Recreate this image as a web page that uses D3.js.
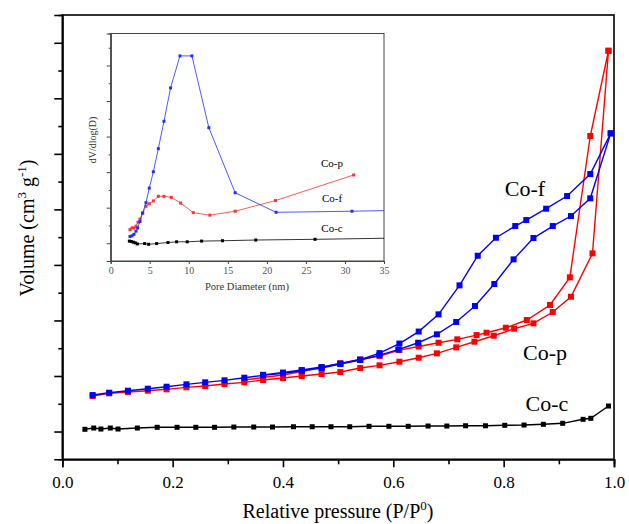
<!DOCTYPE html>
<html>
<head>
<meta charset="utf-8">
<script src="https://cdn.jsdelivr.net/npm/d3@7"></script>
<style>
  body { margin: 0; background: #fff; }
  svg { display: block; }
  svg text { font-family: "Liberation Serif", "Times New Roman", serif; }
</style>
</head>
<body>
<svg id="chart" width="629" height="524" font-family="Liberation Serif, serif"></svg>
<script>
// isotherm data (P/P0, volume)
const cofAdsP = [0.055,0.085,0.119,0.155,0.189,0.225,0.259,0.294,0.330,0.364,0.400,0.434,0.470,0.504,0.540,0.575,0.609,0.645,0.679,0.714,0.748,0.783,0.818,0.854,0.889,0.922,0.957,0.994];
const cofAdsV = [65.7,69.9,73.5,77.1,80.7,85.0,88.6,92.2,96.9,101.2,104.8,109.5,114.3,121.5,128.7,137.7,147.6,159.9,175.0,197.2,226.0,265.6,310.0,348.4,370.0,388.0,419.9,536.9];
const cofDesP = [0.994,0.957,0.915,0.877,0.841,0.821,0.786,0.753,0.720,0.682,0.646,0.611,0.575,0.540,0.504,0.470,0.434,0.400,0.364];
const cofDesV = [536.9,463.6,424.0,401.2,380.8,370.0,348.9,316.5,263.2,211.0,180.0,158.4,141.3,129.6,122.4,116.1,110.7,106.2,102.1];

const copAdsP = [0.055,0.085,0.119,0.155,0.189,0.225,0.259,0.294,0.330,0.364,0.400,0.434,0.470,0.504,0.540,0.575,0.611,0.646,0.679,0.714,0.747,0.782,0.819,0.854,0.889,0.922,0.961,0.990];
const copAdsV = [63.9,68.8,71.1,73.5,76.0,79.6,81.9,85.5,88.6,92.7,96.3,99.9,103.5,107.1,114.3,119.2,125.7,132.9,140.8,151.6,161.7,172.5,185.1,194.8,215.2,242.7,320.8,685.6];
const copDesP = [0.990,0.957,0.920,0.884,0.842,0.804,0.769,0.751,0.716,0.682,0.646,0.611,0.575,0.540,0.504,0.470,0.434,0.400,0.364,0.330];
const copDesV = [685.6,532.1,277.6,227.8,200.8,186.9,177.9,173.7,166.0,159.9,153.0,146.7,135.9,129.6,122.8,115.6,108.0,101.7,97.2,92.7];

const cocP = [0.041,0.057,0.070,0.087,0.101,0.136,0.172,0.208,0.242,0.276,0.311,0.347,0.381,0.419,0.453,0.487,0.521,0.556,0.592,0.627,0.663,0.697,0.731,0.767,0.802,0.837,0.872,0.907,0.944,0.958,0.990];
const cocV = [4.0,6.3,4.5,6.3,4.5,6.3,7.6,7.6,7.6,7.6,8.1,8.1,8.1,8.6,8.6,8.6,8.6,9.4,9.4,9.4,9.9,9.9,10.4,10.4,11.2,11.7,13.0,14.8,22.0,23.8,45.9];

// inset: pore size distribution (nm, dV/dlog(D) arbitrary units)
const psdCofD = [2.47,2.73,2.98,3.24,3.45,3.75,4.09,4.52,4.94,5.46,6.10,6.82,7.67,8.87,10.40,12.57,15.94,21.18,30.90,38.0];
const psdCofY = [0.19,0.21,0.25,0.34,0.43,0.61,0.85,1.14,1.55,2.01,2.66,3.43,4.37,5.27,5.27,3.25,1.42,0.87,0.90,0.93];
const psdCopD = [2.47,2.73,2.98,3.24,3.50,3.75,4.09,4.52,4.94,5.46,6.10,6.82,7.76,8.95,10.57,12.70,15.94,21.10,31.12];
const psdCopY = [0.38,0.43,0.43,0.48,0.59,0.68,0.85,1.04,1.11,1.19,1.32,1.32,1.29,1.13,0.86,0.79,0.90,1.20,1.92];
const psdCocD = [2.39,2.64,2.90,3.15,3.41,4.35,4.86,5.88,7.33,8.44,9.80,11.64,14.32,18.58,26.17,38.0];
const psdCocY = [0.06,0.05,0.03,0.01,-0.02,-0.01,-0.03,-0.01,0.02,0.04,0.04,0.06,0.07,0.09,0.11,0.15];

const xTicks = [0, 0.2, 0.4, 0.6, 0.8, 1.0];
const xMinor = [0.1, 0.3, 0.5, 0.7, 0.9];
const yTicks = [0, 100, 200, 300, 400, 500, 600, 700];
const yMinor = [50, 150, 250, 350, 450, 550, 650];
const inXTicks = [0, 5, 10, 15, 20, 25, 30, 35];
const inYTicks = [0, 1, 2, 3, 4, 5];
const inYMinor = [0.5, 1.5, 2.5, 3.5, 4.5, 5.5];

const BLUE = '#0000ff', RED = '#ff0000', BLACK = '#000000';
const SERIF = '"Liberation Serif", "Times New Roman", serif';

const svg = d3.select('#chart');
const x = d3.scaleLinear().domain([0, 1]).range([62.3, 614]);
const y = d3.scaleLinear().domain([-50, 750]).range([459.3, 15]);

// frame
svg.append('rect').attr('x', x(0)).attr('y', y(750)).attr('width', x(1) - x(0)).attr('height', y(-50) - y(750))
  .attr('fill', 'none').attr('stroke', '#000').attr('stroke-width', 1.6);

// axes
const gx = svg.append('g').attr('transform', `translate(0,${y(-50)})`)
  .call(d3.axisBottom(x).tickValues(xTicks).tickFormat(d3.format('.1f')).tickSize(8).tickPadding(9));
svg.append('g').attr('transform', `translate(0,${y(-50)})`)
  .call(d3.axisBottom(x).tickValues(xMinor).tickFormat('').tickSize(5));
svg.append('g').attr('transform', `translate(${x(0)},0)`)
  .call(d3.axisLeft(y).tickValues(yTicks).tickFormat('').tickSize(8));
svg.append('g').attr('transform', `translate(${x(0)},0)`)
  .call(d3.axisLeft(y).tickValues(yMinor).tickFormat('').tickSize(4));
svg.selectAll('.domain').attr('stroke', '#000').attr('stroke-width', 1.6);
svg.selectAll('.tick line').attr('stroke', '#000').attr('stroke-width', 1.6);
gx.attr('font-family', SERIF);
gx.selectAll('.tick text').attr('font-size', 17).attr('font-family', SERIF).attr('fill', '#000');

// axis titles
const xt = svg.append('text').attr('x', 338).attr('y', 518).attr('text-anchor', 'middle')
  .attr('font-family', SERIF).attr('font-size', 20);
xt.append('tspan').text('Relative pressure (P/P');
xt.append('tspan').attr('dy', -8).attr('font-size', 13).text('0');
xt.append('tspan').attr('dy', 8).text(')');

const yt = svg.append('text').attr('transform', 'translate(34,228) rotate(-90)').attr('text-anchor', 'middle')
  .attr('font-family', SERIF).attr('font-size', 20);
yt.append('tspan').text('Volume (cm');
yt.append('tspan').attr('dy', -8).attr('font-size', 13).text('3');
yt.append('tspan').attr('dy', 8).text(' g');
yt.append('tspan').attr('dy', -8).attr('font-size', 13).text('-1');
yt.append('tspan').attr('dy', 8).text(')');

function series(g, xs, ys, sx, sy, color, size, lw) {
  const pts = xs.map((v, i) => [v, ys[i]]);
  g.append('path').datum(pts)
    .attr('d', d3.line().x(d => sx(d[0])).y(d => sy(d[1])))
    .attr('fill', 'none').attr('stroke', color).attr('stroke-width', lw);
  g.selectAll(null).data(pts).enter().append('rect')
    .attr('x', d => sx(d[0]) - size / 2).attr('y', d => sy(d[1]) - size / 2)
    .attr('width', size).attr('height', size).attr('fill', color);
}

const main = svg.append('g');
series(main, cocP, cocV, x, y, BLACK, 5, 1.4);
series(main, copAdsP, copAdsV, x, y, RED, 6, 1.4);
series(main, copDesP, copDesV, x, y, RED, 6, 1.4);
series(main, cofAdsP, cofAdsV, x, y, BLUE, 6, 1.4);
series(main, cofDesP, cofDesV, x, y, BLUE, 6, 1.4);

function label(g, px, py, size, txt) {
  g.append('text').attr('x', px).attr('y', py).attr('text-anchor', 'middle')
    .attr('font-family', SERIF).attr('font-size', size).text(txt);
}
label(svg, 525, 196, 22, 'Co-f');
label(svg, 545, 360, 22, 'Co-p');
label(svg, 547, 411, 22, 'Co-c');

// inset
const ix = d3.scaleLinear().domain([0, 35]).range([110.7, 384]);
const iy = d3.scaleLinear().domain([-0.5, 5.9]).range([261, 33.5]);
const inset = svg.append('g');
inset.append('rect').attr('x', ix(0)).attr('y', iy(5.9)).attr('width', ix(35) - ix(0)).attr('height', iy(-0.5) - iy(5.9))
  .attr('fill', '#fff').attr('stroke', '#444').attr('stroke-width', 1);
svg.append('clipPath').attr('id', 'inclip').append('rect')
  .attr('x', ix(0)).attr('y', iy(5.9)).attr('width', ix(35) - ix(0)).attr('height', iy(-0.5) - iy(5.9));

const ixa = inset.append('g').attr('transform', `translate(0,${iy(-0.5)})`)
  .call(d3.axisBottom(ix).tickValues(inXTicks).tickSize(3).tickPadding(3));
inset.append('g').attr('transform', `translate(${ix(0)},0)`)
  .call(d3.axisLeft(iy).tickValues(inYTicks).tickFormat('').tickSize(4));
inset.append('g').attr('transform', `translate(${ix(0)},0)`)
  .call(d3.axisLeft(iy).tickValues(inYMinor).tickFormat('').tickSize(2));
inset.selectAll('.domain').attr('stroke', '#444');
inset.selectAll('.tick line').attr('stroke', '#444');
ixa.attr('font-family', SERIF);
ixa.selectAll('.tick text').attr('font-size', 10).attr('fill', '#555').attr('font-family', SERIF);

inset.append('text').attr('x', 247).attr('y', 290).attr('text-anchor', 'middle').attr('font-family', SERIF)
  .attr('font-size', 10.5).attr('fill', '#333').text('Pore Diameter (nm)');
inset.append('text').attr('transform', 'translate(96,140) rotate(-90)').attr('text-anchor', 'middle').attr('font-family', SERIF)
  .attr('font-size', 10).attr('fill', '#333').text('dV/dlog(D)');

const idata = inset.append('g').attr('clip-path', 'url(#inclip)');
series(idata, psdCocD, psdCocY, ix, iy, BLACK, 3, 0.8);
series(idata, psdCopD, psdCopY, ix, iy, '#ff3030', 3, 0.8);
series(idata, psdCofD, psdCofY, ix, iy, '#2030ff', 3, 0.8);

label(inset, 332, 167, 11, 'Co-p');
label(inset, 332, 202, 11, 'Co-f');
label(inset, 332, 232, 11, 'Co-c');
</script>
</body>
</html>
